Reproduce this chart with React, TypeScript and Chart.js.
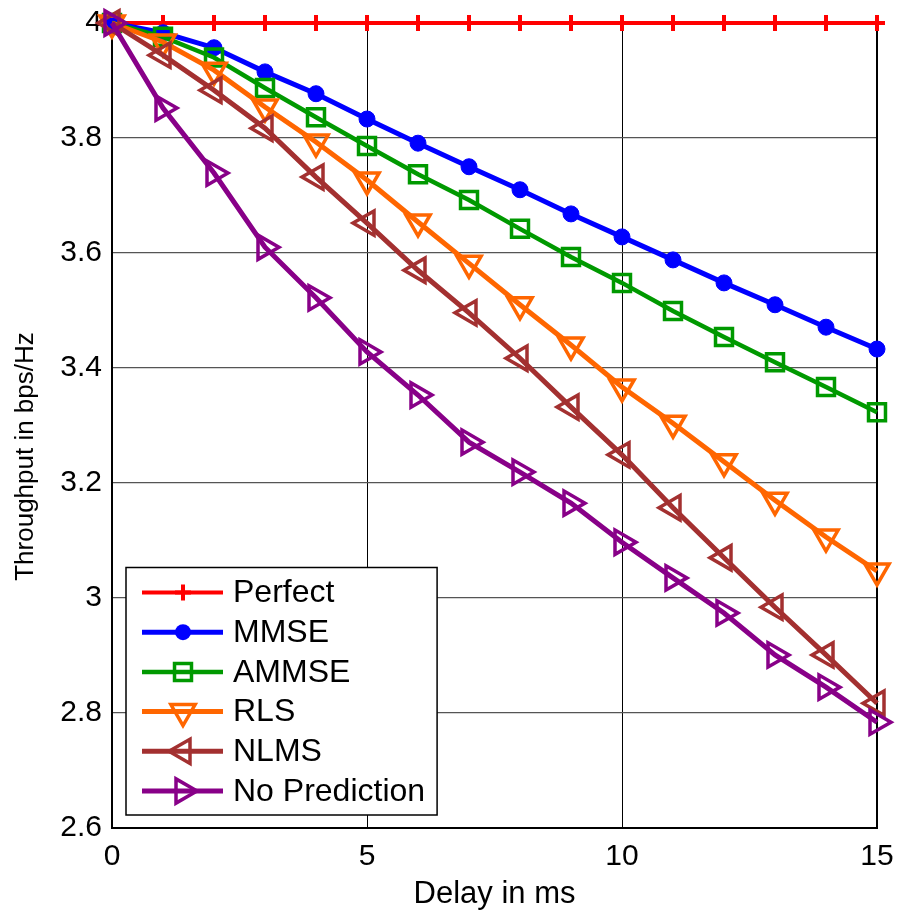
import React, { useEffect, useRef } from 'react';
import { Chart, registerables } from 'chart.js';

Chart.register(...registerables);

const delays = [0, 1, 2, 3, 4, 5, 6, 7, 8, 9, 10, 11, 12, 13, 14, 15];
const seriesNames = ['Perfect', 'MMSE', 'AMMSE', 'RLS', 'NLMS', 'No Prediction'];
const perfect = [4, 4, 4, 4, 4, 4, 4, 4, 4, 4, 4, 4, 4, 4, 4, 4];
const mmse = [4, 3.983, 3.957, 3.915, 3.877, 3.833, 3.791, 3.75, 3.71, 3.668, 3.628, 3.588, 3.548, 3.51, 3.471, 3.433];
const ammse = [4, 3.976, 3.94, 3.887, 3.836, 3.786, 3.737, 3.692, 3.642, 3.593, 3.548, 3.499, 3.454, 3.41, 3.367, 3.323];
const rls = [4, 3.967, 3.918, 3.854, 3.793, 3.727, 3.654, 3.582, 3.51, 3.44, 3.367, 3.304, 3.237, 3.17, 3.106, 3.047];
const nlms = [4, 3.944, 3.883, 3.817, 3.732, 3.652, 3.57, 3.496, 3.417, 3.332, 3.249, 3.157, 3.07, 2.984, 2.901, 2.817];
const noPrediction = [4, 3.852, 3.739, 3.61, 3.522, 3.428, 3.353, 3.271, 3.219, 3.165, 3.097, 3.035, 2.974, 2.901, 2.845, 2.784];
const xTicks = [0, 5, 10, 15];
const yTicks = [2.6, 2.8, 3, 3.2, 3.4, 3.6, 3.8, 4];
const xTitle = 'Delay in ms';
const yTitle = 'Throughput in bps/Hz';

const seriesValues = [perfect, mmse, ammse, rls, nlms, noPrediction];

// styles
const colors = ['#ff0000', '#0000ff', '#009900', '#ff6600', '#a33030', '#880088'];
const markers = ['cross', 'circle', 'rect', 'triangle', 'triangle', 'triangle'];
const rotations = [0, 0, 0, 180, -90, 90];
const radii = [8, 8, 12, 14, 14, 14];
const fills = [true, true, false, false, false, false];
const lineWidths = [4, 5, 4.5, 5, 5, 5];
const markerStroke = [4, 1, 3.5, 3.5, 3.5, 3.5];

const FONT = '"Liberation Sans", Arial, Helvetica, sans-serif';

function drawMarker(ctx: CanvasRenderingContext2D, i: number, x: number, y: number) {
  const r = radii[i];
  ctx.save();
  ctx.strokeStyle = colors[i];
  ctx.fillStyle = colors[i];
  ctx.lineWidth = markerStroke[i];
  ctx.beginPath();
  if (markers[i] === 'cross') {
    ctx.moveTo(x - r, y);
    ctx.lineTo(x + r, y);
    ctx.moveTo(x, y - r);
    ctx.lineTo(x, y + r);
    ctx.stroke();
  } else if (markers[i] === 'circle') {
    ctx.arc(x, y, r, 0, Math.PI * 2);
    ctx.fill();
  } else if (markers[i] === 'rect') {
    const s = Math.SQRT1_2 * r;
    ctx.rect(x - s, y - s, 2 * s, 2 * s);
    ctx.stroke();
  } else {
    let rad = (rotations[i] * Math.PI) / 180;
    ctx.moveTo(x + Math.sin(rad) * r, y - Math.cos(rad) * r);
    rad += (2 * Math.PI) / 3;
    ctx.lineTo(x + Math.sin(rad) * r, y - Math.cos(rad) * r);
    rad += (2 * Math.PI) / 3;
    ctx.lineTo(x + Math.sin(rad) * r, y - Math.cos(rad) * r);
    ctx.closePath();
    ctx.stroke();
  }
  ctx.restore();
}

const boxPlugin = {
  id: 'boxPlugin',
  beforeDatasetsDraw(chart: any) {
    const { ctx, chartArea: a } = chart;
    ctx.save();
    ctx.strokeStyle = '#000';
    ctx.lineWidth = 2;
    ctx.strokeRect(a.left, a.top, a.right - a.left, a.bottom - a.top);
    ctx.restore();
  },
  afterDraw(chart: any) {
    const { ctx, chartArea: a } = chart;
    ctx.save();
    ctx.translate(26, (a.top + a.bottom) / 2 + 31);
    ctx.rotate(-Math.PI / 2);
    ctx.fillStyle = '#000';
    ctx.font = `26px ${FONT}`;
    ctx.textAlign = 'center';
    ctx.textBaseline = 'middle';
    ctx.fillText(yTitle, 0, 0);
    ctx.restore();
  },
};

const legendPlugin = {
  id: 'insideLegend',
  afterDatasetsDraw(chart: any) {
    const { ctx, chartArea: a } = chart;
    ctx.save();
    ctx.font = `32px ${FONT}`;
    let maxW = 0;
    seriesNames.forEach((n) => {
      maxW = Math.max(maxW, ctx.measureText(n).width);
    });
    const rowH = 39.7;
    const left = a.left + 14;
    const width = 107 + maxW + 12;
    const height = 25 + rowH * (seriesNames.length - 1) + 24;
    const top = a.bottom - 13 - height;
    ctx.fillStyle = '#fff';
    ctx.fillRect(left, top, width, height);
    ctx.strokeStyle = '#000';
    ctx.lineWidth = 1.5;
    ctx.strokeRect(left, top, width, height);
    seriesNames.forEach((n, i) => {
      const cy = top + 25 + i * rowH;
      ctx.strokeStyle = colors[i];
      ctx.lineWidth = lineWidths[i];
      ctx.beginPath();
      ctx.moveTo(left + 16, cy);
      ctx.lineTo(left + 97, cy);
      ctx.stroke();
      drawMarker(ctx, i, left + 57, cy);
      ctx.fillStyle = '#000';
      ctx.textBaseline = 'middle';
      ctx.textAlign = 'left';
      ctx.font = `32px ${FONT}`;
      ctx.fillText(n, left + 107, cy + 1);
    });
    ctx.restore();
  },
};

export default function App() {
  const ref = useRef<HTMLCanvasElement | null>(null);
  useEffect(() => {
    if (!ref.current) return;
    const n = seriesNames.length;
    const chart = new Chart(ref.current, {
      type: 'line',
      data: {
        datasets: seriesNames.map((name, i) => ({
          label: name,
          data: delays.map((d, k) => ({ x: d, y: seriesValues[i][k] })),
          borderColor: colors[i],
          backgroundColor: fills[i] ? colors[i] : 'rgba(0,0,0,0)',
          borderWidth: lineWidths[i],
          pointStyle: markers[i] as any,
          pointRotation: rotations[i],
          pointRadius: radii[i],
          pointBorderWidth: markerStroke[i],
          pointBorderColor: colors[i],
          pointBackgroundColor: fills[i] ? colors[i] : 'rgba(0,0,0,0)',
          tension: 0,
          fill: false,
          clip: false as any,
          order: n - 1 - i,
        })),
      },
      options: {
        animation: false,
        responsive: false,
        maintainAspectRatio: false,
        layout: { padding: { top: 23, right: 22, left: 0, bottom: 0 } },
        plugins: { legend: { display: false }, tooltip: { enabled: false } },
        scales: {
          x: {
            type: 'linear',
            min: 0,
            max: 15,
            afterBuildTicks: (s: any) => {
              s.ticks = xTicks.map((v) => ({ value: v }));
            },
            afterFit: (s: any) => {
              s.height = 85;
              s.paddingLeft = 0;
              s.paddingRight = 0;
              s.paddingTop = 0;
              s.paddingBottom = 0;
            },
            ticks: {
              color: '#000',
              font: { family: FONT, size: 30 },
              padding: 11,
              maxRotation: 0,
              callback: (v: any) => String(v),
            },
            grid: { color: '#000', lineWidth: 1, drawTicks: false },
            border: { color: '#000', width: 2 },
            title: {
              display: true,
              text: xTitle,
              color: '#000',
              font: { family: FONT, size: 31 },
              padding: 0,
            },
          },
          y: {
            type: 'linear',
            min: 2.6,
            max: 4,
            afterBuildTicks: (s: any) => {
              s.ticks = yTicks.map((v) => ({ value: v }));
            },
            afterFit: (s: any) => {
              s.width = 112;
              s.paddingLeft = 0;
              s.paddingRight = 0;
              s.paddingTop = 0;
              s.paddingBottom = 0;
            },
            ticks: {
              color: '#000',
              font: { family: FONT, size: 30 },
              padding: 10,
              callback: (v: any) => String(Math.round(Number(v) * 10) / 10),
            },
            grid: { color: '#555', lineWidth: 1.2, drawTicks: false },
            border: { color: '#000', width: 2 },
            title: { display: false },
          },
        },
      },
      plugins: [boxPlugin, legendPlugin],
    });
    return () => chart.destroy();
  }, []);
  return (
    <div style={{ position: 'absolute', left: 0, top: 0, width: 899, height: 913, background: '#fff' }}>
      <canvas ref={ref} width={899} height={913} style={{ display: 'block', width: 899, height: 913 }} />
    </div>
  );
}
